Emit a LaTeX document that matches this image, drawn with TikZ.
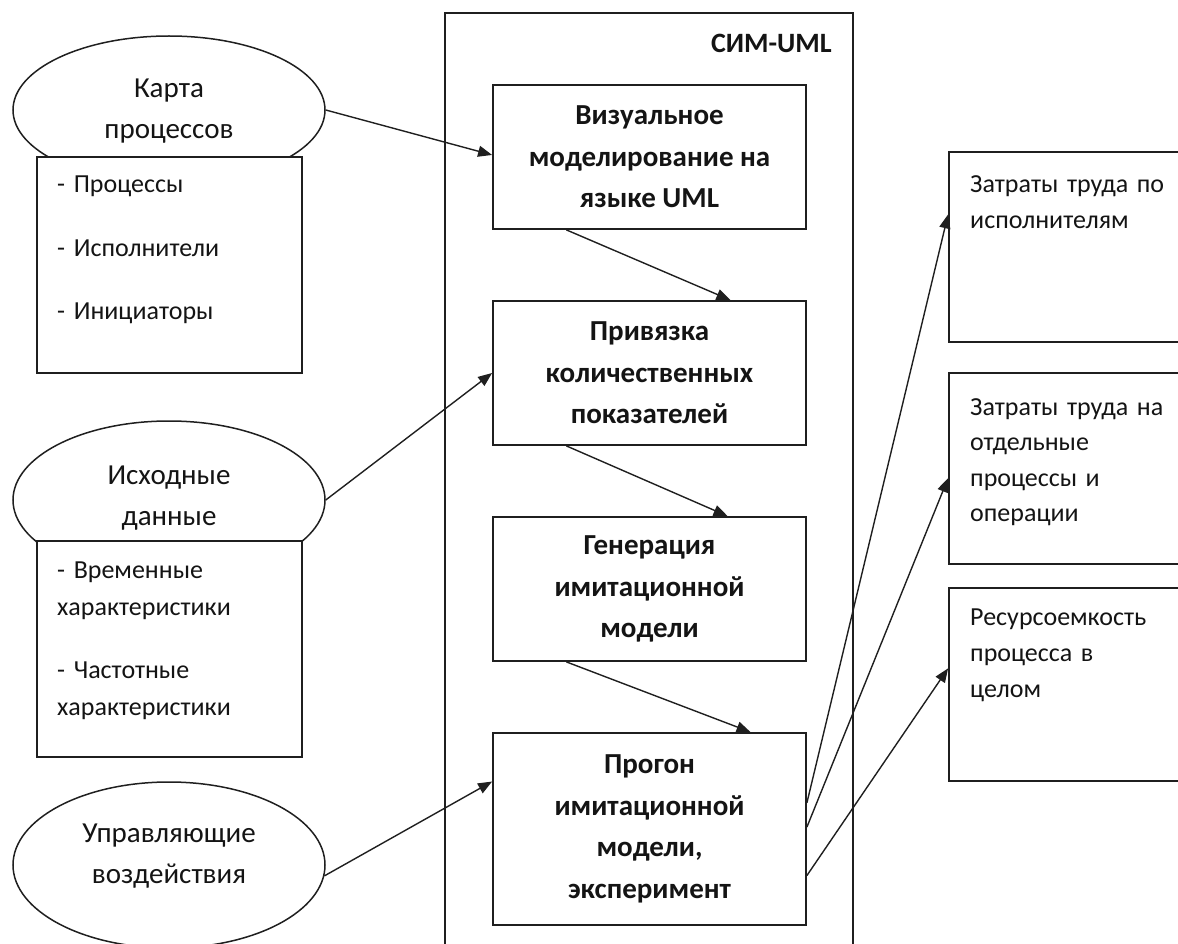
\documentclass[tikz,border=0pt]{standalone}
\usepackage{fontspec}
\setmainfont{Carlito}
\usetikzlibrary{arrows.meta,shapes.geometric,calc}
\begin{document}
\begin{tikzpicture}[x=1pt,y=-1pt,
  every node/.style={text=black!92},
  box/.style={draw=black!88, line width=1.8pt, fill=white, rectangle, inner sep=0pt},
  mainbox/.style={box, minimum width=313pt, minimum height=144pt, align=center, font=\fontsize{29}{41.5}\selectfont\bfseries},
  oval/.style={draw=black!88, line width=1.5pt, ellipse, fill=white, minimum width=312pt, inner sep=0pt},
  ovaltext/.style={align=center, font=\fontsize{29}{41.5}\selectfont, inner sep=0pt},
  listtext/.style={anchor=base west, align=left, text width=250pt, inner sep=0pt},
  arr/.style={line width=1.4pt, draw=black!88, -{Triangle[length=14pt,width=11pt]}}
]
\useasboundingbox (0,0) rectangle (1178,944);
% frame
\node[box, fill=none, minimum width=408pt, minimum height=987pt] (frame) at (649,506.5) {};
\node[anchor=base east, font=\fontsize{28}{32}\selectfont\bfseries, inner sep=0pt] (lbl) at (832,53) {СИМ-UML};
% main boxes
\node[mainbox] (b1) at (649.5,157) {Визуальное\\моделирование на\\языке UML};
\node[mainbox] (b2) at (649.5,373) {Привязка\\количественных\\показателей};
\node[mainbox] (b3) at (649.5,589) {Генерация\\имитационной\\модели};
\node[mainbox, minimum height=192pt] (b4) at (649.5,829) {Прогон\\имитационной\\модели,\\эксперимент};
% left ellipses
\node[oval, minimum height=148pt] (e1) at (169,110) {};
\node[oval, minimum height=158pt] (e2) at (169,500) {};
\node[oval, minimum height=166pt] (e3) at (169,865) {};
\node[ovaltext] (t1) at (169,111) {Карта\\процессов};
\node[ovaltext] (t2) at (169,498) {Исходные\\данные};
\node[ovaltext] (t3) at (169,856) {Управляющие\\воздействия};
% left boxes
\node[box, minimum width=265pt, minimum height=216pt] (l1) at (169.5,265) {};
\node[box, minimum width=265pt, minimum height=216pt] (l2) at (169.5,649) {};
\node[listtext, font=\fontsize{26}{63.5}\selectfont] (p1) at (57,193) {- Процессы\\- Исполнители\\- Инициаторы};
\node[listtext, font=\fontsize{26}{37}\selectfont] (p2) at (57,578) {- Временные\\характеристики\\[26pt]- Частотные\\характеристики};
% right boxes
\node[box, minimum width=251pt, minimum height=190pt] (r1) at (1074.5,247) {};
\node[box, minimum width=251pt, minimum height=191pt] (r2) at (1074.5,468.5) {};
\node[box, minimum width=251pt, minimum height=193pt] (r3) at (1074.5,684.5) {};
\node[listtext, font=\fontsize{26}{35.5}\selectfont] (q1) at (970,193) {Затраты труда по\\исполнителям};
\node[listtext, font=\fontsize{26}{35.5}\selectfont] (q2) at (970,415) {Затраты труда на\\отдельные\\процессы и\\операции};
\node[listtext, font=\fontsize{26}{36}\selectfont] (q3) at (970,625) {Ресурсоемкость\\процесса в\\целом};
% arrows
\draw[arr] (e1.east) -- ($(b1.north west)!0.486!(b1.south west)$);
\draw[arr] ($(b1.south west)!0.236!(b1.south east)$) -- ($(b2.north west)!0.757!(b2.north east)$);
\draw[arr] (e2.east) -- (b2.west);
\draw[arr] ($(b2.south west)!0.236!(b2.south east)$) -- ($(b3.north west)!0.748!(b3.north east)$);
\draw[arr] ($(b3.south west)!0.236!(b3.south east)$) -- ($(b4.north west)!0.821!(b4.north east)$);
\draw[arr] (e3.-4) -- ($(b4.north west)!0.255!(b4.south west)$);
\draw[arr] ($(b4.north east)!0.365!(b4.south east)$) -- ($(r1.north west)!0.33!(r1.south west)$);
\draw[arr] ($(b4.north east)!0.49!(b4.south east)$) -- ($(r2.north west)!0.55!(r2.south west)$);
\draw[arr] ($(b4.north east)!0.74!(b4.south east)$) -- ($(r3.north west)!0.417!(r3.south west)$);
\end{tikzpicture}
\end{document}
